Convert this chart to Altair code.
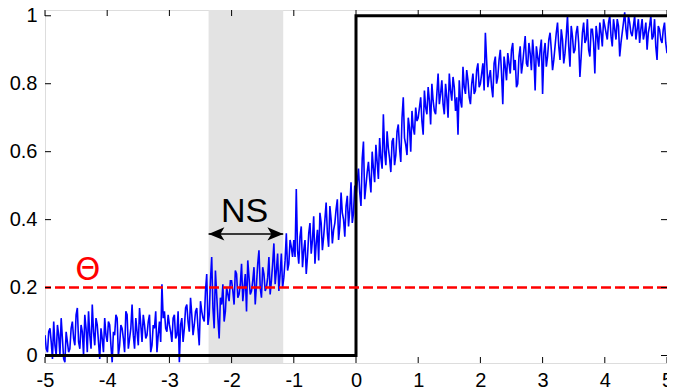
import altair as alt
import numpy as np
import pandas as pd

main1 = [0.06, 0.01, 0.08, -0.01, 0.03, 0.09, 0.00, 0.05, -0.02, 0.04, 0.02, 0.10, 0.03, 0.14, 0.02, 0.07, 0.12, 0.01, 0.06, 0.15, 0.03, 0.09, -0.01, 0.05, 0.11]
main2 = [0.04, 0.09, -0.02, 0.06, 0.11, 0.03, 0.08, 0.01, 0.12, 0.05, 0.15, 0.02, 0.07, 0.14, 0.04, 0.09, 0.06, 0.12, 0.03, 0.08, 0.01, 0.10, 0.21, 0.13, 0.07]
main3 = [0.09, 0.04, 0.12, 0.06, -0.02, 0.11, 0.08, 0.15, 0.07, 0.12, 0.09, 0.14, 0.03, 0.13, 0.10, 0.24, 0.12, 0.29, 0.08, 0.18, 0.05, 0.15, 0.10, 0.20, 0.16]
main4 = [0.22, 0.15, 0.24, 0.18, 0.27, 0.20, 0.13, 0.23, 0.19, 0.26, 0.21, 0.31, 0.17, 0.24, 0.20, 0.29, 0.22, 0.33, 0.25, 0.19, 0.30, 0.23, 0.36, 0.27, 0.32]
main5 = [0.34, 0.49, 0.27, 0.38, 0.31, 0.24, 0.36, 0.30, 0.41, 0.33, 0.28, 0.39, 0.35, 0.45, 0.32, 0.40, 0.37, 0.43, 0.34, 0.48, 0.40, 0.44, 0.38, 0.51, 0.42]
main6 = [0.47, 0.55, 0.44, 0.63, 0.50, 0.57, 0.48, 0.55, 0.62, 0.52, 0.58, 0.71, 0.56, 0.61, 0.54, 0.64, 0.59, 0.68, 0.57, 0.76, 0.62, 0.70, 0.60, 0.67, 0.73]
main7 = [0.70, 0.76, 0.65, 0.73, 0.79, 0.68, 0.75, 0.71, 0.83, 0.77, 0.74, 0.80, 0.70, 0.78, 0.82, 0.72, 0.65, 0.75, 0.85, 0.77, 0.81, 0.74, 0.83, 0.78, 0.86]
main8 = [0.80, 0.86, 0.95, 0.79, 0.84, 0.76, 0.88, 0.82, 0.90, 0.74, 0.85, 0.89, 0.83, 0.92, 0.87, 0.80, 0.91, 0.86, 0.94, 0.85, 0.89, 0.93, 0.78, 0.88, 0.90]
main9 = [0.77, 0.92, 0.88, 0.95, 0.84, 0.91, 0.98, 0.87, 0.93, 0.89, 1.00, 0.85, 0.94, 0.90, 0.97, 0.82, 0.95, 0.92, 0.99, 0.88, 0.96, 0.83, 0.94, 0.98, 0.91]
main10 = [0.97, 0.93, 1.00, 0.91, 0.96, 0.99, 0.88, 0.95, 1.01, 0.93, 0.98, 0.94, 1.00, 0.96, 0.92, 0.99, 0.95, 0.90, 0.97, 0.93, 0.99, 0.87, 0.96, 0.92, 0.98, 0.89]

mid1 = [0.02, 0.07, 0.04, 0.10, 0.00, 0.06, 0.11, -0.01, 0.07, 0.01, 0.08, 0.05, 0.12, 0.04, 0.09, 0.00, 0.08, 0.13, 0.02, 0.07, 0.11, 0.04, 0.08, 0.01, 0.06]
mid2 = [0.10, 0.03, 0.07, 0.12, 0.00, 0.09, 0.05, 0.13, 0.02, 0.08, 0.06, 0.11, 0.03, 0.09, 0.12, 0.05, 0.10, 0.01, 0.09, 0.13, 0.06, 0.04, 0.11, 0.08, 0.12]
mid3 = [0.07, 0.11, 0.05, 0.13, 0.09, 0.04, 0.14, 0.10, 0.17, 0.06, 0.13, 0.08, 0.16, 0.11, 0.19, 0.09, 0.22, 0.14, 0.25, 0.11, 0.17, 0.21, 0.13, 0.18, 0.22]
mid4 = [0.19, 0.25, 0.17, 0.21, 0.16, 0.24, 0.28, 0.18, 0.22, 0.15, 0.27, 0.20, 0.26, 0.19, 0.23, 0.18, 0.27, 0.21, 0.30, 0.24, 0.20, 0.28, 0.25, 0.34, 0.29]
mid5 = [0.29, 0.31, 0.35, 0.26, 0.34, 0.29, 0.39, 0.34, 0.27, 0.37, 0.42, 0.31, 0.40, 0.36, 0.44, 0.33, 0.39, 0.46, 0.38, 0.42, 0.35, 0.47, 0.43, 0.39, 0.50]
mid6 = [0.51, 0.48, 0.58, 0.46, 0.54, 0.52, 0.60, 0.51, 0.57, 0.64, 0.55, 0.60, 0.66, 0.58, 0.63, 0.56, 0.66, 0.61, 0.70, 0.64, 0.59, 0.67, 0.72, 0.65, 0.69]
mid7 = [0.73, 0.69, 0.78, 0.71, 0.75, 0.80, 0.72, 0.77, 0.74, 0.81, 0.71, 0.76, 0.83, 0.75, 0.79, 0.76, 0.81, 0.73, 0.79, 0.84, 0.76, 0.80, 0.77, 0.84, 0.79]
mid8 = [0.83, 0.78, 0.87, 0.82, 0.79, 0.86, 0.80, 0.87, 0.83, 0.88, 0.81, 0.86, 0.90, 0.84, 0.79, 0.88, 0.83, 0.90, 0.86, 0.92, 0.84, 0.88, 0.91, 0.85, 0.93]
mid9 = [0.89, 0.85, 0.93, 0.90, 0.87, 0.95, 0.91, 0.96, 0.86, 0.94, 0.91, 0.97, 0.89, 0.95, 0.92, 0.88, 0.98, 0.93, 0.90, 0.96, 0.92, 0.97, 0.90, 0.95, 0.99]
mid10 = [0.95, 0.98, 0.94, 0.99, 0.93, 0.97, 0.92, 0.98, 0.96, 1.00, 0.95, 0.97, 0.93, 0.99, 0.96, 0.93, 0.98, 0.95, 1.00, 0.94, 0.91, 0.97, 0.93, 0.96, 0.92]

signal_main = main1 + main2 + main3 + main4 + main5 + main6 + main7 + main8 + main9 + main10
signal_mid = mid1 + mid2 + mid3 + mid4 + mid5 + mid6 + mid7 + mid8 + mid9 + mid10
signal_y = []
for i in range(len(signal_mid)):
    signal_y += [signal_main[i], signal_mid[i]]
signal_y.append(signal_main[-1])
signal_x = list(np.round(np.linspace(-5, 5, len(signal_y)), 3))

step_x = [-5, 0, 0, 5]
step_y = [0, 0, 1, 1]

theta_level = 0.2
band_x = [-2.37, -1.17]
arrow_y = 0.358
ns_pos = (-1.79, 0.394)
theta_pos = (-4.31, 0.252)

x_ticks = [-5, -4, -3, -2, -1, 0, 1, 2, 3, 4, 5]
y_ticks = [0, 0.2, 0.4, 0.6, 0.8, 1]

W, H = 622, 353
XDOM = [-5, 5]
YDOM = [-0.022, 1.017]
FONT = "Liberation Sans"

xs = alt.Scale(domain=XDOM, nice=False, zero=False)
ys = alt.Scale(domain=YDOM, nice=False, zero=False)

x_axis = alt.Axis(values=x_ticks, labelExpr="'' + datum.value", ticks=False, tickSize=0,
                  domain=False, grid=False, labelFontSize=20, labelFont=FONT,
                  labelColor="black", labelPadding=7, title=None, labelFlush=False)
y_axis = alt.Axis(values=y_ticks, labelExpr="'' + datum.value", ticks=False, tickSize=0,
                  domain=False, grid=False, labelFontSize=20, labelFont=FONT,
                  labelColor="black", labelPadding=8, title=None)

sig_df = pd.DataFrame({"x": signal_x, "y": signal_y})
step_df = pd.DataFrame({"x": step_x, "y": step_y, "i": list(range(len(step_x)))})
band_df = pd.DataFrame({"x": [band_x[0]], "x2": [band_x[1]]})
thr_df = pd.DataFrame({"y": [theta_level]})

band = alt.Chart(band_df).mark_rect(color="#e3e3e3").encode(
    x=alt.X("x:Q", scale=xs, axis=x_axis), x2="x2:Q",
    y=alt.value(0), y2=alt.value(H))

signal = alt.Chart(sig_df).mark_line(color="#0000ff", strokeWidth=1.6, clip=True).encode(
    x=alt.X("x:Q", scale=xs), y=alt.Y("y:Q", scale=ys, axis=y_axis))

step = alt.Chart(step_df).mark_line(color="black", strokeWidth=3, clip=True).encode(
    x=alt.X("x:Q", scale=xs), y=alt.Y("y:Q", scale=ys), order="i:Q")

thr = alt.Chart(thr_df).mark_rule(color="#ff0000", strokeWidth=2.5, strokeDash=[10, 4]).encode(
    y=alt.Y("y:Q", scale=ys))

# inward ticks (MATLAB style)
xt_df = pd.DataFrame({"x": x_ticks})
yt_df = pd.DataFrame({"y": y_ticks})
xt_bottom = alt.Chart(xt_df).mark_rule(color="black", strokeWidth=1).encode(
    x=alt.X("x:Q", scale=xs), y=alt.value(H), y2=alt.value(H - 6))
xt_top = alt.Chart(xt_df).mark_rule(color="black", strokeWidth=1).encode(
    x=alt.X("x:Q", scale=xs), y=alt.value(0), y2=alt.value(6))
yt_left = alt.Chart(yt_df).mark_rule(color="black", strokeWidth=1).encode(
    y=alt.Y("y:Q", scale=ys), x=alt.value(0), x2=alt.value(6))
yt_right = alt.Chart(yt_df).mark_rule(color="black", strokeWidth=1).encode(
    y=alt.Y("y:Q", scale=ys), x=alt.value(W), x2=alt.value(W - 6))

# NS annotation
arrow_df = pd.DataFrame({"x": band_x, "y": [arrow_y, arrow_y]})
arrow_line = alt.Chart(arrow_df).mark_line(color="black", strokeWidth=1.5).encode(
    x=alt.X("x:Q", scale=xs), y=alt.Y("y:Q", scale=ys))
head_l = alt.Chart(pd.DataFrame({"x": [band_x[0]], "y": [arrow_y]})).mark_point(
    shape="M0,0 L2,-0.85 L1.5,0 L2,0.85 Z", size=250, filled=True, color="black",
    strokeWidth=1, opacity=1
).encode(x=alt.X("x:Q", scale=xs), y=alt.Y("y:Q", scale=ys))
head_r = alt.Chart(pd.DataFrame({"x": [band_x[1]], "y": [arrow_y]})).mark_point(
    shape="M0,0 L-2,-0.85 L-1.5,0 L-2,0.85 Z", size=250, filled=True, color="black",
    strokeWidth=1, opacity=1
).encode(x=alt.X("x:Q", scale=xs), y=alt.Y("y:Q", scale=ys))

ns_text = alt.Chart(pd.DataFrame({"x": [ns_pos[0]], "y": [ns_pos[1]], "t": ["NS"]})).mark_text(
    fontSize=34, font=FONT, color="black", baseline="alphabetic", align="center"
).encode(x=alt.X("x:Q", scale=xs), y=alt.Y("y:Q", scale=ys), text="t:N")

theta_text = alt.Chart(pd.DataFrame({"x": [theta_pos[0]], "y": [theta_pos[1]], "t": ["Θ"]})).mark_text(
    fontSize=32, font="DejaVu Sans", color="#ff0000", baseline="middle", align="center"
).encode(x=alt.X("x:Q", scale=xs), y=alt.Y("y:Q", scale=ys), text="t:N")

chart = alt.layer(
    band, signal, step, thr, xt_bottom, xt_top, yt_left, yt_right,
    arrow_line, head_l, head_r, ns_text, theta_text
).properties(
    width=W, height=H,
    autosize=alt.AutoSizeParams(type="none"),
    padding={"left": 37, "top": 2, "right": 0, "bottom": 29},
).configure_view(stroke="black", strokeWidth=1).configure(background="white")

chart.save("out.html", embed_options={"renderer": "svg", "actions": False})
